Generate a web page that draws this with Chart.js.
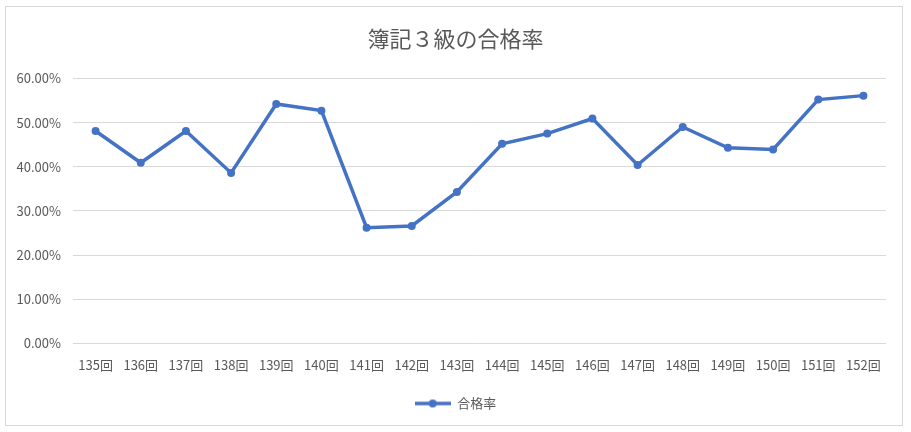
<!DOCTYPE html>
<html>
<head>
<meta charset="utf-8">
<script src="https://cdn.jsdelivr.net/npm/chart.js@4/dist/chart.umd.min.js"></script>
<style>
  html, body { margin: 0; padding: 0; background: #fff; }
  #wrap { position: relative; width: 911px; height: 432px; }
  #frame { position: absolute; left: 5px; top: 6px; width: 898px; height: 420px; border: 1px solid #d9d9d9; box-sizing: border-box; }
  canvas { position: absolute; left: 0; top: 0; }
</style>
</head>
<body>
<div id="wrap">
  <div id="frame"></div>
  <canvas id="c" width="911" height="432"></canvas>
</div>
<script>
const categories = ["135回","136回","137回","138回","139回","140回","141回","142回","143回","144回","145回","146回","147回","148回","149回","150回","151回","152回"];
const passRate = [48.1, 40.9, 48.1, 38.6, 54.2, 52.7, 26.2, 26.6, 34.3, 45.2, 47.5, 50.9, 40.4, 49.0, 44.3, 43.9, 55.2, 56.1];
const yTicks = [0, 10, 20, 30, 40, 50, 60];
const seriesName = "合格率";
const titleText = "簿記３級の合格率";

const blue = "#4472C4";
const gray = "#595959";
const font = "'Noto Sans CJK JP', 'Noto Sans', sans-serif";

// legend marker: line with dot
const marker = document.createElement('canvas');
marker.width = 36; marker.height = 10;
(function(){
  const g = marker.getContext('2d');
  g.strokeStyle = blue; g.lineWidth = 3.5;
  g.beginPath(); g.moveTo(0, 5); g.lineTo(36, 5); g.stroke();
  g.fillStyle = blue; g.beginPath(); g.arc(18, 5, 4, 0, Math.PI * 2); g.fill();
})();

new Chart(document.getElementById('c'), {
  type: 'line',
  data: {
    labels: categories,
    datasets: [{
      label: seriesName,
      data: passRate,
      yAxisID: 'y',
      borderColor: blue,
      backgroundColor: blue,
      borderWidth: 3.5,
      pointStyle: 'circle',
      pointRadius: 4,
      pointHoverRadius: 4,
      pointBorderWidth: 0,
      pointBackgroundColor: blue,
      pointBorderColor: blue,
      tension: 0
    }]
  },
  options: {
    responsive: false,
    animation: false,
    devicePixelRatio: 1,
    layout: { padding: { left: 0, right: 0, top: 0, bottom: 12 } },
    plugins: {
      title: {
        display: true,
        text: titleText,
        color: gray,
        font: { family: font, size: 22, weight: 'normal' },
        padding: { top: 25, bottom: 27 }
      },
      legend: {
        display: true,
        position: 'bottom',
        labels: {
          color: gray,
          font: { family: font, size: 13 },
          usePointStyle: true,
          pointStyleWidth: 36,
          boxHeight: 10,
          padding: 10,
          generateLabels: (chart) => chart.data.datasets.map((ds, i) => ({
            text: ds.label, pointStyle: marker, fillStyle: blue, strokeStyle: blue,
            lineWidth: 0, hidden: false, datasetIndex: i, fontColor: gray
          }))
        }
      },
      tooltip: { enabled: false }
    },
    scales: {
      x: {
        offset: true,
        grid: { display: false, drawTicks: false },
        border: { display: false },
        ticks: { color: gray, font: { family: font, size: 13 }, padding: 14, maxRotation: 0, autoSkip: false }
      },
      y: {
        position: 'left',
        min: 0, max: 60,
        afterBuildTicks: (s) => { s.ticks = yTicks.map(v => ({ value: v })); },
        afterFit: (s) => { s.width = 73; },
        grid: { color: '#d9d9d9', lineWidth: 1, drawTicks: false },
        border: { display: false },
        ticks: {
          color: gray, font: { family: font, size: 13 }, padding: 12,
          callback: (v) => v.toFixed(2) + '%'
        }
      },
      spacer: {
        type: 'linear',
        position: 'right',
        display: true,
        afterFit: (s) => { s.width = 25; },
        grid: { display: false, drawTicks: false },
        border: { display: false },
        ticks: { display: false }
      }
    }
  }
});
</script>
</body>
</html>
